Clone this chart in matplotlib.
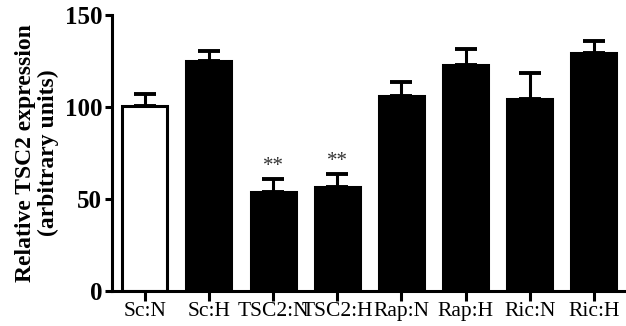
import numpy as np
import matplotlib.pyplot as plt

groups = ['Sc:N', 'Sc:H', 'TSC2:N', 'TSC2:H', 'Rap:N', 'Rap:H', 'Ric:N', 'Ric:H']
means = [100.5, 125, 54, 56.5, 106, 123, 104.5, 129.5]
sems = [6.5, 5.5, 7, 7, 7.5, 8.5, 14, 6.5]
fills = ['white', 'black', 'black', 'black', 'black', 'black', 'black', 'black']
stars = ['', '', '**', '**', '', '', '', '']

plt.rcParams['font.family'] = 'Liberation Serif'

fig = plt.figure(figsize=(6.26, 3.26), dpi=100)
ax = fig.add_axes([0.179, 0.107, 0.821, 0.847])

x = np.arange(len(groups))
ax.bar(x, means, width=0.7, color=fills, edgecolor='black', linewidth=2.2, zorder=2)
ax.errorbar(x, means, yerr=[np.zeros(len(sems)), sems], fmt='none', ecolor='black',
            elinewidth=2.2, capsize=8, capthick=2.8, zorder=1)

for xi, m, s, st in zip(x, means, sems, stars):
    if st:
        ax.text(xi, m + s + 1.5, st, ha='center', va='bottom', fontsize=15, color='#333333')

ax.set_xlim(-0.51, 7.5)
ax.set_ylim(0, 150)
ax.set_yticks([0, 50, 100, 150])
ax.set_xticks(x)
ax.set_xticklabels(groups, fontsize=15.5)
for lab in ax.get_yticklabels():
    lab.set_fontweight('bold')
    lab.set_fontsize(18)

ax.set_ylabel('Relative TSC2 expression\n(arbitrary units)', fontsize=17,
              fontweight='bold', linespacing=1.15, labelpad=4)

for side in ['top', 'right']:
    ax.spines[side].set_visible(False)
for side in ['left', 'bottom']:
    ax.spines[side].set_linewidth(2.2)
ax.tick_params(axis='y', length=5, width=2.2, pad=2)
ax.tick_params(axis='x', length=7, width=2.2, pad=1)

fig.savefig('out.png', dpi=100)
